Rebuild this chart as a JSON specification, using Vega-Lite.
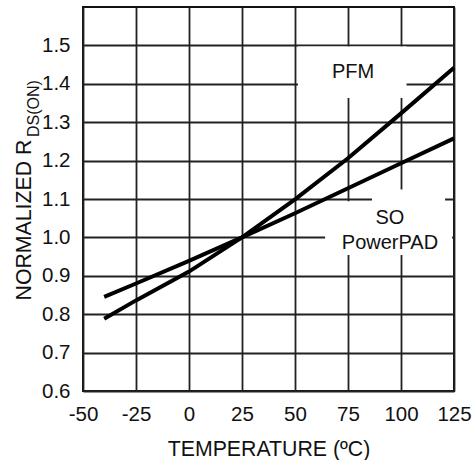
{
  "$schema": "https://vega.github.io/schema/vega-lite/v6.json",
  "width": 371,
  "height": 384,
  "autosize": {"type": "none"},
  "padding": {"left": 83, "top": 7, "right": 20, "bottom": 69},
  "background": "white",
  "config": {
    "font": "Liberation Sans",
    "view": {"stroke": "#111", "strokeWidth": 2}
  },
  "datasets": {
    "curves": [
      {"series": "PFM", "temp": -40, "r": 0.788},
      {"series": "PFM", "temp": -25, "r": 0.836},
      {"series": "PFM", "temp": 0, "r": 0.911},
      {"series": "PFM", "temp": 25, "r": 1.0},
      {"series": "PFM", "temp": 50, "r": 1.099},
      {"series": "PFM", "temp": 75, "r": 1.206},
      {"series": "PFM", "temp": 100, "r": 1.323},
      {"series": "PFM", "temp": 125, "r": 1.442},
      {"series": "SO PowerPAD", "temp": -40, "r": 0.845},
      {"series": "SO PowerPAD", "temp": -25, "r": 0.88},
      {"series": "SO PowerPAD", "temp": 0, "r": 0.939},
      {"series": "SO PowerPAD", "temp": 25, "r": 1.0},
      {"series": "SO PowerPAD", "temp": 50, "r": 1.063},
      {"series": "SO PowerPAD", "temp": 75, "r": 1.128},
      {"series": "SO PowerPAD", "temp": 100, "r": 1.193},
      {"series": "SO PowerPAD", "temp": 125, "r": 1.258}
    ],
    "masks": [
      {"x0": 51.4, "x1": 102.6, "y0": 1.363, "y1": 1.497},
      {"x0": 64.2, "x1": 124.1, "y0": 0.954, "y1": 1.094},
      {"x0": 86.3, "x1": 120.8, "y0": 1.09, "y1": 1.125}
    ],
    "labels": [
      {"text": "PFM", "temp": 77.4, "r": 1.431},
      {"text": "SO", "temp": 94.8, "r": 1.05},
      {"text": "PowerPAD", "temp": 94.8, "r": 0.985}
    ]
  },
  "layer": [
    {
      "data": {"name": "masks"},
      "mark": {"type": "rect", "fill": "white", "strokeWidth": 0},
      "encoding": {
        "x": {
          "field": "x0", "type": "quantitative",
          "scale": {"domain": [-50, 125], "nice": false, "zero": false},
          "axis": {
            "values": [-50, -25, 0, 25, 50, 75, 100, 125],
            "labelExpr": "toString(datum.value)",
            "grid": true, "gridColor": "#222", "gridWidth": 1.8,
            "ticks": false, "domain": false,
            "labelFontSize": 20.5, "labelColor": "#111", "labelPadding": 13,
            "labelFlush": false, "labelOverlap": false,
            "title": "TEMPERATURE (ºC)", "titleFontSize": 21.3, "titleFontWeight": "normal",
            "titleColor": "#111", "titlePadding": 14
          }
        },
        "x2": {"field": "x1"},
        "y": {
          "field": "y0", "type": "quantitative",
          "scale": {"domain": [0.6, 1.6], "nice": false, "zero": false},
          "axis": {
            "values": [0.6, 0.7, 0.8, 0.9, 1.0, 1.1, 1.2, 1.3, 1.4, 1.5],
            "format": ".1f",
            "grid": true, "gridColor": "#222", "gridWidth": 1.8,
            "ticks": false, "domain": false,
            "labelFontSize": 20.5, "labelColor": "#111", "labelPadding": 13,
            "labelFlush": false, "labelOverlap": false,
            "title": "NORMALIZED R", "titleFontSize": 21.3, "titleFontWeight": "normal",
            "titleColor": "#111", "titleAngle": 270, "titleAlign": "left",
            "titleBaseline": "alphabetic", "titleX": -53, "titleY": 293
          }
        },
        "y2": {"field": "y1"}
      }
    },
    {
      "data": {"name": "curves"},
      "mark": {"type": "line", "color": "#000", "strokeWidth": 4, "strokeCap": "butt"},
      "encoding": {
        "x": {"field": "temp", "type": "quantitative"},
        "y": {"field": "r", "type": "quantitative"},
        "detail": {"field": "series", "type": "nominal"}
      }
    },
    {
      "data": {"name": "labels"},
      "mark": {"type": "text", "fontSize": 20, "color": "#111", "align": "center", "baseline": "middle"},
      "encoding": {
        "x": {"field": "temp", "type": "quantitative"},
        "y": {"field": "r", "type": "quantitative"},
        "text": {"field": "text"}
      }
    },
    {
      "data": {"values": [{"sub": "DS(ON)"}]},
      "mark": {"type": "text", "fontSize": 16, "color": "#111", "angle": 270, "align": "left", "baseline": "alphabetic"},
      "encoding": {
        "x": {"datum": -70.8, "type": "quantitative"},
        "y": {"datum": 1.2615, "type": "quantitative"},
        "text": {"field": "sub"}
      }
    }
  ]
}
